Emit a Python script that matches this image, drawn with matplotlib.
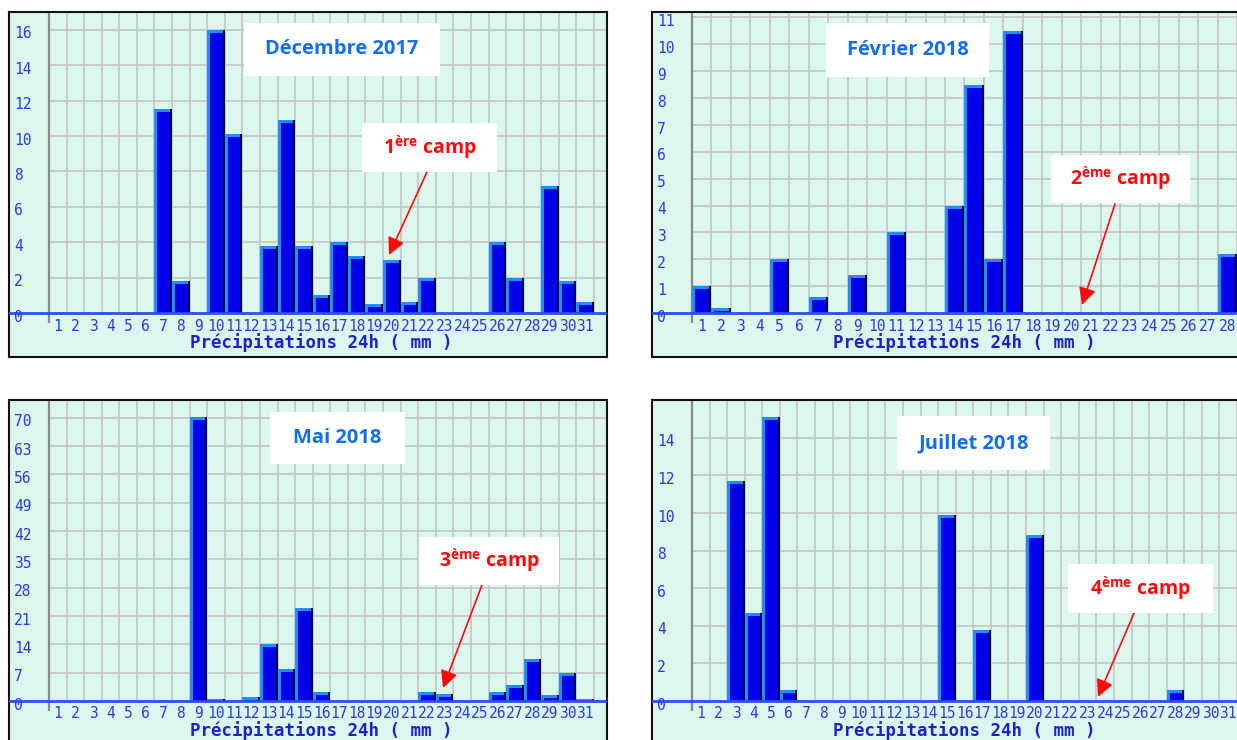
import matplotlib
matplotlib.use('Agg')
import matplotlib.pyplot as plt
from matplotlib.patches import Rectangle
import numpy as np

plt.rcParams['mathtext.fontset'] = 'custom'
plt.rcParams['mathtext.bf'] = 'Open Sans:bold'
plt.rcParams['mathtext.rm'] = 'Open Sans:bold'
plt.rcParams['mathtext.it'] = 'Open Sans:bold'

# Données : précipitations 24h (mm) par jour
dec_vals = [0, 0, 0, 0, 0, 0, 11.5, 1.8, 0, 16.0, 10.1, 0, 3.8, 10.9, 3.8, 1.0,
            4.0, 3.2, 0.5, 3.0, 0.6, 2.0, 0, 0, 0, 4.0, 2.0, 0, 7.2, 1.8, 0.6]
feb_vals = [1.0, 0.2, 0, 0, 2.0, 0, 0.6, 0, 1.4, 0, 3.0, 0, 0, 4.0, 8.5, 2.0,
            10.5, 0, 0, 0, 0, 0, 0, 0, 0, 0, 0, 2.2]
mai_vals = [0, 0, 0, 0, 0, 0, 0, 0, 70.2, 0.6, 0, 1.0, 14.0, 7.8, 23.0, 2.2,
            0, 0, 0, 0, 0, 2.2, 1.8, 0, 0, 2.2, 4.0, 10.4, 1.4, 6.9, 0.6]
jul_vals = [0, 0, 11.7, 4.7, 15.1, 0.6, 0, 0, 0, 0, 0, 0, 0, 0, 9.9, 0, 3.8,
            0, 0, 8.8, 0, 0, 0, 0, 0, 0, 0, 0.6, 0, 0, 0]

dec_ticks = list(range(0, 17, 2))
feb_ticks = list(range(0, 12))
mai_ticks = list(range(0, 71, 7))
jul_ticks = list(range(0, 15, 2))

titles = ['Décembre 2017', 'Février 2018', 'Mai 2018', 'Juillet 2018']
camps = [r'$\mathbf{1}^{\mathbf{ère}}$ camp', r'$\mathbf{2}^{\mathbf{ème}}$ camp',
         r'$\mathbf{3}^{\mathbf{ème}}$ camp', r'$\mathbf{4}^{\mathbf{ème}}$ camp']
xlabel = 'Précipitations 24h ( mm )'

W, H = 1237, 740
FW, FH = 598, 345          # taille d'un cadre (px)
LEFT, PLOT_W, TOP_PX = 40, 545, 301

BG = '#dcf6f0'
GRID = '#c4c4c4'
BODY = '#0000e8'
LIGHT = '#1e8fff'
DARK = '#00003a'
TXT_BLUE = '#2a3be0'
TITLE_BLUE = '#1370ea'
RED = '#ff0a0a'

fig = plt.figure(figsize=(W / 100, H / 100), dpi=100)
fig.patch.set_facecolor('white')


def box(x0, y0, x1, y1):
    fig.add_artist(Rectangle((x0 / W, 1 - y1 / H), (x1 - x0) / W, (y1 - y0) / H,
                             transform=fig.transFigure, facecolor='white',
                             edgecolor='none', zorder=3))


def panel(fx, fy, vals, yticks, ymax, title, tbox, camp, cbox, arrow):
    ax = fig.add_axes([fx / W, 1 - (fy + FH) / H, FW / W, FH / H])
    n = len(vals)
    days = np.arange(1, n + 1)
    v = np.array(vals, dtype=float)
    cell = PLOT_W / n
    ppu = TOP_PX / ymax
    xmax = n + 13 / cell
    ax.set_xlim(-LEFT / cell, xmax)
    ax.set_ylim(-44 / ppu, ymax)
    ax.set_facecolor(BG)
    ax.set_xticks([])
    ax.set_yticks([])
    for s in ax.spines.values():
        s.set_color('#111111')
        s.set_linewidth(1.5)

    # grille
    ax.vlines(days, 0, ymax, color=GRID, lw=1.2, zorder=1)
    ax.hlines(yticks[1:], 0, xmax, color=GRID, lw=1.2, zorder=1)
    ax.vlines(0, -10 / ppu, ymax, color='#8a8a8a', lw=1.6, zorder=2)

    # barres avec effet relief
    m = v > 0
    d, h = days[m], v[m]
    ax.bar(d - 1, h, width=1, align='edge', color=BODY, zorder=3)
    ax.bar(d - 1, h, width=3 / cell, align='edge', color=LIGHT, zorder=4)
    ax.bar(d - 1, 3 / ppu, bottom=h - 3 / ppu, width=1 - 2 / cell, align='edge',
           color=LIGHT, zorder=4)
    ax.bar(d - 2 / cell, h, width=2 / cell, align='edge', color=DARK, zorder=4)
    ax.axhline(0, color='#2f4cf8', lw=2, zorder=6)

    # étiquettes
    for t in yticks:
        ax.annotate(str(t), xy=(5 / FW, t), xycoords=ax.get_yaxis_transform(),
                    xytext=(0, -3), textcoords='offset points', ha='left',
                    va='center', family='DejaVu Sans Mono', fontsize=10.5,
                    color=TXT_BLUE, zorder=7)
    for dd in days:
        ax.text(dd - 0.5, -13 / ppu, str(dd), ha='center', va='center',
                family='DejaVu Sans Mono', fontsize=10.5, color=TXT_BLUE)
    ax.text(312 / FW, 14 / FH, xlabel, transform=ax.transAxes, ha='center',
            va='center', family='DejaVu Sans Mono', fontweight='bold',
            fontsize=12.5, color='#1a22d0')

    # titre et campagne
    box(*tbox)
    fig.text((tbox[0] + tbox[2]) / 2 / W, 1 - (tbox[1] + tbox[3]) / 2 / H, title,
             ha='center', va='center', family='Open Sans', fontweight='bold',
             fontsize=14.5, color=TITLE_BLUE, zorder=4)
    box(*cbox)
    fig.text((cbox[0] + cbox[2]) / 2 / W, 1 - (cbox[1] + cbox[3]) / 2 / H, camp,
             ha='center', va='center', family='Open Sans', fontweight='bold',
             fontsize=14, color=RED, zorder=4)
    ax.annotate('', xy=(arrow[2], H - arrow[3]), xycoords='figure pixels',
                xytext=(arrow[0], H - arrow[1]), textcoords='figure pixels',
                arrowprops=dict(arrowstyle='-|>', color=RED, lw=1.2,
                                mutation_scale=26, shrinkA=0, shrinkB=0),
                zorder=8)
    return ax


panel(9, 12, dec_vals, dec_ticks, 17.0, titles[0], (244, 23, 440, 76),
      camps[0], (362, 123, 497, 172), (427, 172, 389, 255))
panel(652, 12, feb_vals, feb_ticks, 11.2, titles[1], (826, 23, 989, 77),
      camps[1], (1051, 155, 1190, 203), (1115, 204, 1082, 305))
panel(9, 400, mai_vals, mai_ticks, 74.4, titles[2], (270, 412, 405, 464),
      camps[2], (419, 537, 559, 585), (482, 585, 443, 688))
panel(652, 400, jul_vals, jul_ticks, 16.0, titles[3], (897, 416, 1050, 470),
      camps[3], (1068, 564, 1213, 613), (1135, 611, 1098, 697))

fig.savefig('out.png', dpi=100)
